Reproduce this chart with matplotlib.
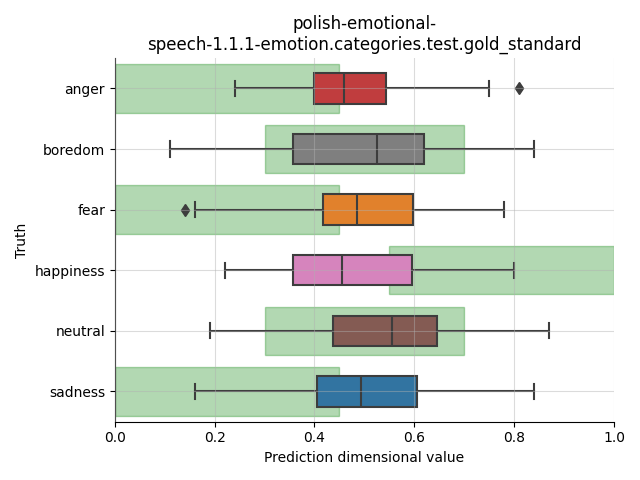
import colorsys
import numpy as np
import matplotlib
matplotlib.use("Agg")
import matplotlib.pyplot as plt
import matplotlib.colors as mcolors

# Catégories et statistiques
categories = ["anger", "boredom", "fear", "happiness", "neutral", "sadness"]
whisk_lo = [0.24, 0.11, 0.16, 0.22, 0.19, 0.16]
q1 = [0.399, 0.358, 0.418, 0.357, 0.438, 0.406]
median = [0.46, 0.526, 0.485, 0.455, 0.555, 0.494]
q3 = [0.544, 0.62, 0.598, 0.595, 0.646, 0.606]
whisk_hi = [0.75, 0.84, 0.78, 0.80, 0.87, 0.84]
outliers = [[0.81], [], [0.141], [], [], []]

# Plages attendues pour chaque catégorie
span_lo = [0.0, 0.3, 0.0, 0.55, 0.3, 0.0]
span_hi = [0.45, 0.7, 0.45, 1.0, 0.7, 0.45]

base_colors = ["tab:red", "tab:gray", "tab:orange", "tab:pink", "tab:brown", "tab:blue"]


def desaturate(c, prop=0.75):
    r, g, b = mcolors.to_rgb(c)
    h, l, s = colorsys.rgb_to_hls(r, g, b)
    return colorsys.hls_to_rgb(h, l, s * prop)


fig, ax = plt.subplots(figsize=(6.4, 4.8), dpi=100)

pos = np.arange(len(categories))

# Bandes vertes
ax.barh(pos, np.array(span_hi) - np.array(span_lo), left=span_lo, height=0.8,
        color="g", alpha=0.3, edgecolor="g", linewidth=1, zorder=1)

stats = []
for i, c in enumerate(categories):
    stats.append(dict(label=c, whislo=whisk_lo[i], q1=q1[i], med=median[i],
                      q3=q3[i], whishi=whisk_hi[i], fliers=outliers[i]))

line_col = "#3d3d3d"
bp = ax.bxp(stats, positions=pos, vert=False, widths=0.5, patch_artist=True,
            boxprops=dict(edgecolor=line_col, linewidth=1.5),
            medianprops=dict(color=line_col, linewidth=1.5),
            whiskerprops=dict(color=line_col, linewidth=1.5),
            capprops=dict(color=line_col, linewidth=1.5),
            flierprops=dict(marker="d", markerfacecolor=line_col,
                            markeredgecolor=line_col, markersize=6),
            zorder=2)
for patch, c in zip(bp["boxes"], base_colors):
    patch.set_facecolor(desaturate(c))

ax.set_yticks(pos)
ax.set_yticklabels(categories)
ax.set_ylim(len(categories) - 0.5, -0.5)
ax.set_xlim(0, 1)
ax.grid(True, color="#b0b0b0", alpha=0.45, linewidth=0.8, zorder=3)
ax.set_axisbelow(False)
for s in ["top", "right"]:
    ax.spines[s].set_visible(False)

ax.set_title("polish-emotional-\nspeech-1.1.1-emotion.categories.test.gold_standard")
ax.set_xlabel("Prediction dimensional value")
ax.set_ylabel("Truth")

plt.tight_layout()
plt.savefig("out.png")
